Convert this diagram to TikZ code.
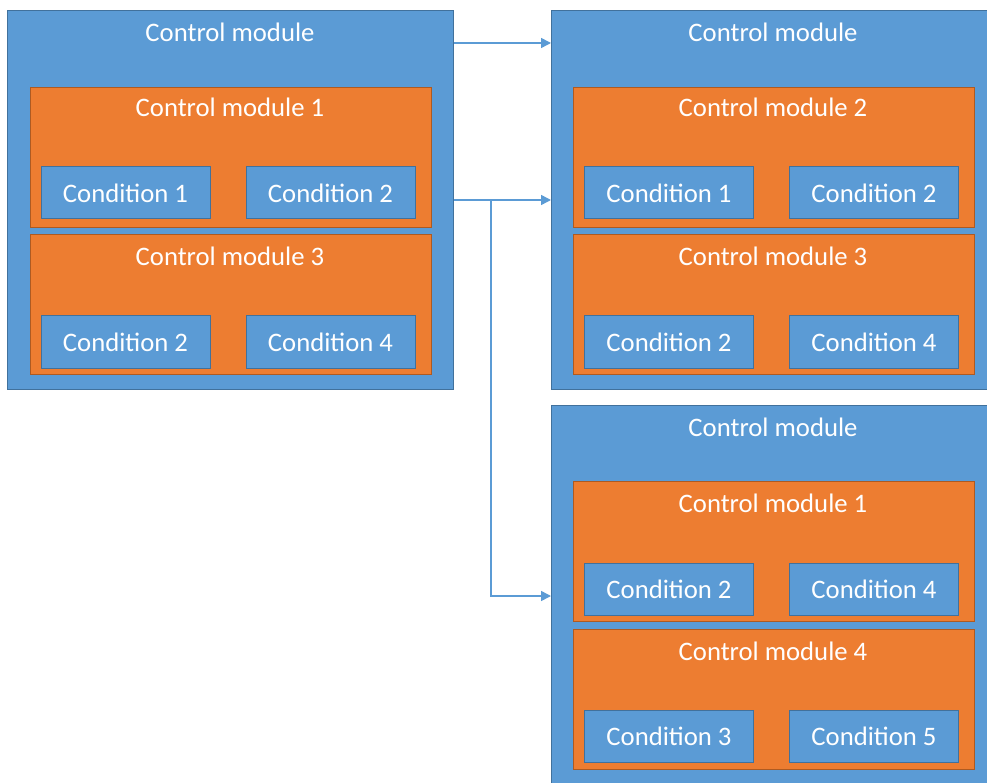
\documentclass[tikz,border=0pt]{standalone}
\usepackage{fontspec}
\setmainfont{Carlito}
\usetikzlibrary{arrows.meta}

\definecolor{cmblue}{HTML}{5B9BD5}
\definecolor{cmblueline}{HTML}{41719C}
\definecolor{cmorange}{HTML}{ED7D31}
\definecolor{cmorangeline}{HTML}{AE5A21}

\tikzset{
  outerbox/.style={draw=cmblueline, fill=cmblue, line width=1pt, anchor=north west,
    minimum width=446pt, minimum height=379pt, inner sep=0pt},
  modbox/.style={draw=cmorangeline, fill=cmorange, line width=1pt, anchor=north west,
    minimum width=401pt, minimum height=140pt, inner sep=0pt},
  condbox/.style={draw=cmblueline, fill=cmblue, line width=1pt, text=white,
    minimum width=169pt, minimum height=52pt, inner sep=0pt,
    font=\fontsize{26.7}{32}\selectfont},
  ttl/.style={text=white, inner sep=0pt, font=\fontsize{26.7}{32}\selectfont},
  link/.style={draw=cmblue, line width=1.5pt, -{Triangle[length=10pt,width=10pt]}}
}

\begin{document}
\begin{tikzpicture}[x=1pt,y=-1pt]
            \useasboundingbox (0,0) rectangle (987,783);
            % left block
            \node[outerbox] (cmA) at (7,10) {};
            \node[ttl] (cmAt) at (230,32) {Control module};
            \node[modbox] (cmA1) at (30,87) {};
            \node[ttl] (cmA1t) at (230,107) {Control module 1};
            \node[condbox] (cmA1a) at (125.5,193) {Condition 1};
            \node[condbox] (cmA1b) at (330.5,193) {Condition 2};
            \node[modbox] (cmA3) at (30,234) {};
            \node[ttl] (cmA3t) at (230,256) {Control module 3};
            \node[condbox] (cmA3a) at (125.5,342) {Condition 2};
            \node[condbox] (cmA3b) at (330.5,342) {Condition 4};
            % right top block
            \node[outerbox, minimum width=440pt] (cmB) at (551,10) {};
            \node[ttl] (cmBt) at (773,32) {Control module};
            \node[modbox] (cmB2) at (573,87) {};
            \node[ttl] (cmB2t) at (773,107) {Control module 2};
            \node[condbox] (cmB2a) at (669,193) {Condition 1};
            \node[condbox] (cmB2b) at (874,193) {Condition 2};
            \node[modbox] (cmB3) at (573,234) {};
            \node[ttl] (cmB3t) at (773,256) {Control module 3};
            \node[condbox] (cmB3a) at (669,342) {Condition 2};
            \node[condbox] (cmB3b) at (874,342) {Condition 4};
            % right bottom block
            \node[outerbox, minimum width=440pt, minimum height=385pt] (cmC) at (551,405) {};
            \node[ttl] (cmCt) at (773,427) {Control module};
            \node[modbox] (cmC1) at (573,481) {};
            \node[ttl] (cmC1t) at (773,503) {Control module 1};
            \node[condbox] (cmC1a) at (669,589) {Condition 2};
            \node[condbox] (cmC1b) at (874,589) {Condition 4};
            \node[modbox] (cmC4) at (573,629) {};
            \node[ttl] (cmC4t) at (773,651) {Control module 4};
            \node[condbox] (cmC4a) at (669,736) {Condition 3};
            \node[condbox] (cmC4b) at (874,736) {Condition 5};
            % links
            \coordinate (split) at (491,200);
            \draw[link] (cmA.east |- 0,43) -- (cmB.west |- 0,43);
            \draw[link] (cmA.east |- split) -- (cmB.west |- split);
            \draw[link] (split) |- (cmC.west |- 0,596);
        \end{tikzpicture}
\end{document}
